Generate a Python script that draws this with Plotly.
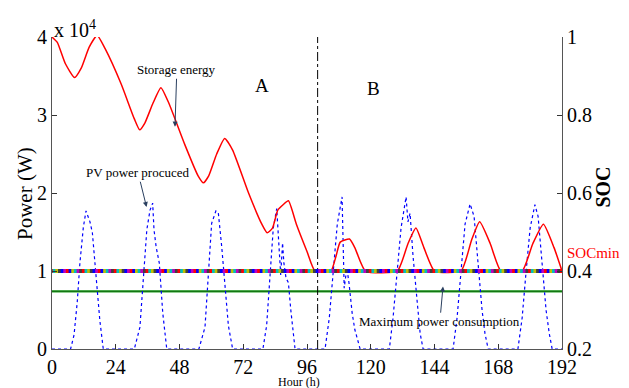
import plotly.graph_objects as go

# ---- data (power in units of 1e4 W, time in hours) ----
storage_hours = [0, 2, 5, 8.5, 11, 14, 17, 20, 26, 31, 33, 35, 38, 41, 44, 50, 55, 57, 59, 62, 65, 68, 74, 79, 81, 83,
                 85, 87, 89, 92, 96, 99, 105, 107, 108.5, 112, 114, 118, 130, 134, 137, 140, 144, 154, 158, 161, 165,
                 169, 177, 181, 185, 189, 192]
storage_power = [4.0, 3.93, 3.66, 3.48, 3.6, 3.87, 4.02, 3.85, 3.4, 2.95, 2.81, 2.9, 3.15, 3.35, 3.15, 2.62, 2.22, 2.13,
                 2.22, 2.5, 2.70, 2.55, 2.0, 1.6, 1.49, 1.55, 1.78, 1.85, 1.90, 1.6, 1.25, 1.0, 1.0, 1.2, 1.37, 1.41,
                 1.3, 1.0, 1.0, 1.35, 1.55, 1.3, 1.0, 1.0, 1.4, 1.63, 1.35, 1.0, 1.0, 1.35, 1.60, 1.3, 1.0]

pv_hours = [0, 7, 8.3, 9.5, 10.5, 11.8, 12.8, 14.3, 15.2, 16.8, 18, 19.3,
            31, 33.1, 34.4, 35.7, 36.9, 37.9, 38.4, 39.2, 40.4, 41.7, 43.2,
            55.3, 57.6, 58.9, 60.1, 61.7, 62.6, 63.9, 65.2, 66.4, 68,
            79.4, 80.8, 82.3, 83.3, 84.6, 85.6, 86.1, 86.8, 87.3, 88.1, 89, 89.9, 91.5,
            102.8, 104.4, 105.9, 107.4, 109.2, 110, 111, 111.8, 113, 114, 116,
            127, 128.4, 129.9, 131.4, 133.3, 134, 134.8, 135.9, 137.5, 138.6, 139.7,
            151, 152.5, 154, 155.5, 157.4, 158.9, 160.4, 161.9, 163, 164.2,
            175.4, 177, 178.5, 180, 181.8, 183, 184.5, 186, 187.2, 188.3, 192]
pv_power = [0, 0, 0.18, 0.6, 1.1, 1.56, 1.77, 1.63, 1.49, 0.88, 0.37, 0,
            0, 0.28, 0.88, 1.53, 1.78, 1.87, 1.53, 1.31, 1.1, 0.46, 0,
            0, 0.28, 1.0, 1.61, 1.77, 1.75, 1.31, 0.75, 0.3, 0,
            0, 0.3, 1.0, 1.55, 1.80, 1.2, 0.95, 1.36, 1.1, 0.91, 0.85, 0.5, 0,
            0, 0.4, 1.0, 1.6, 1.95, 0.78, 1.04, 0.85, 0.46, 0.25, 0,
            0, 0.4, 1.0, 1.55, 1.95, 1.63, 1.74, 1.2, 0.6, 0.2, 0,
            0, 0.4, 1.0, 1.6, 1.86, 1.7, 1.1, 0.5, 0.2, 0,
            0, 0.4, 1.0, 1.55, 1.85, 1.7, 1.1, 0.5, 0.2, 0, 0]

max_consumption = 0.74
soc_min = 0.4
soc_hours = list(range(0, 193))
soc_colors_cycle = ["#ff0000", "#00bfbf", "#bfbf00", "#404040", "#0000ff", "#bf00bf", "#ff0000", "#0000ff",
                    "#bfbf00", "#00bfbf", "#bf00bf", "#404040"]
divider_hour = 100

x_ticks = [0, 24, 48, 72, 96, 120, 144, 168, 192]
y_ticks = [0, 1, 2, 3, 4]
soc_ticks = [0.2, 0.4, 0.6, 0.8, 1.0]
soc_ticktext = ["0.2", "0.4", "0.6", "0.8", "1"]

FONT = "Liberation Serif"
TICK_FONT = "Times New Roman"

fig = go.Figure()
fig.add_trace(go.Scatter(x=[0, 192], y=[max_consumption] * 2, mode="lines",
                         line=dict(color="#22a022", width=2.2), showlegend=False))
fig.add_trace(go.Scatter(x=[0, 192], y=[max_consumption] * 2, mode="lines",
                         line=dict(color="#0b5d0b", width=0.8), showlegend=False))
fig.add_trace(go.Scatter(x=pv_hours, y=pv_power, mode="lines",
                         line=dict(color="#0000ff", width=1.2, dash="dot"), showlegend=False))
fig.add_trace(go.Scatter(x=storage_hours, y=storage_power, mode="lines",
                         line=dict(color="#ff0000", width=1.5, shape="spline", smoothing=0.5), showlegend=False))
fig.add_trace(go.Scatter(x=soc_hours, y=[soc_min] * len(soc_hours), mode="markers", yaxis="y2",
                         marker=dict(symbol="square", size=4,
                                     color=[soc_colors_cycle[i % len(soc_colors_cycle)] for i in range(len(soc_hours))],
                                     line=dict(width=0)),
                         showlegend=False))
fig.add_trace(go.Scatter(x=[divider_hour, divider_hour], y=[0, 4], mode="lines",
                         line=dict(color="#000000", width=1, dash="dashdot"), showlegend=False))


def axis_style():
    return dict(showgrid=False, zeroline=False, showline=True, linecolor="#555555", linewidth=1,
                ticks="inside", ticklen=5, tickcolor="#333333", automargin=False,
                tickfont=dict(family=TICK_FONT, size=20, color="#000000"))


fig.update_layout(
    width=629, height=388,
    margin=dict(l=52, r=67, t=37, b=39, autoexpand=False),
    paper_bgcolor="white", plot_bgcolor="white",
    font=dict(family=FONT, size=20, color="#000000"),
    xaxis=dict(range=[0, 192], tickvals=x_ticks, **axis_style()),
    yaxis=dict(range=[0, 4], tickvals=y_ticks, **axis_style()),
    yaxis2=dict(range=[0.2, 1.0], overlaying="y", side="right", tickvals=soc_ticks, ticktext=soc_ticktext,
                **axis_style()),
)

ann_font = dict(family=FONT, size=13, color="#000000")
fig.add_annotation(x=46.3, y=2.85, ax=47, ay=3.58, axref="x", ayref="y", text="Storage energy",
                   showarrow=True, arrowhead=2, arrowsize=1, arrowwidth=1, font=ann_font)
fig.add_annotation(x=35.6, y=1.82, ax=32.4, ay=2.26, axref="x", ayref="y", text="PV power procuced",
                   showarrow=True, arrowhead=2, arrowsize=1, arrowwidth=1, font=ann_font)
fig.add_annotation(x=147.2, y=0.8, ax=146, ay=0.35, axref="x", ayref="y", text="Maximum power consumption",
                   showarrow=True, arrowhead=2, arrowsize=1, arrowwidth=1, font=ann_font)
fig.add_annotation(x=79, y=3.38, text="A", showarrow=False, font=dict(family=FONT, size=19, color="#000"))
fig.add_annotation(x=121, y=3.34, text="B", showarrow=False, font=dict(family=FONT, size=19, color="#000"))

fig.add_annotation(xref="paper", yref="paper", x=1.005, y=0.308, xanchor="left", yanchor="middle", text="SOCmin",
                   showarrow=False, font=dict(family=FONT, size=15, color="#ff0000"))
fig.add_annotation(xref="paper", yref="paper", x=0.0, y=1.0, xanchor="left", yanchor="bottom", yshift=-6,
                   text="x 10<sup>4</sup>", showarrow=False, font=dict(family=FONT, size=20, color="#000"))
fig.add_annotation(xref="paper", yref="paper", x=-0.053, y=0.5, xanchor="center", yanchor="middle", textangle=-90,
                   text="Power (W)", showarrow=False, font=dict(family=FONT, size=21, color="#000"))
fig.add_annotation(xref="paper", yref="paper", x=1.08, y=0.52, xanchor="center", yanchor="middle", textangle=-90,
                   text="<b>SOC</b>", showarrow=False, font=dict(family=FONT, size=20, color="#000"))
fig.add_annotation(xref="paper", yref="paper", x=0.485, y=-0.105, xanchor="center", yanchor="middle",
                   text="Hour (h)", showarrow=False, font=dict(family=FONT, size=12, color="#000"))

fig.write_html("out.html", config={"displayModeBar": False},
               post_script="document.body.style.margin='0px';document.body.style.padding='0px';")
